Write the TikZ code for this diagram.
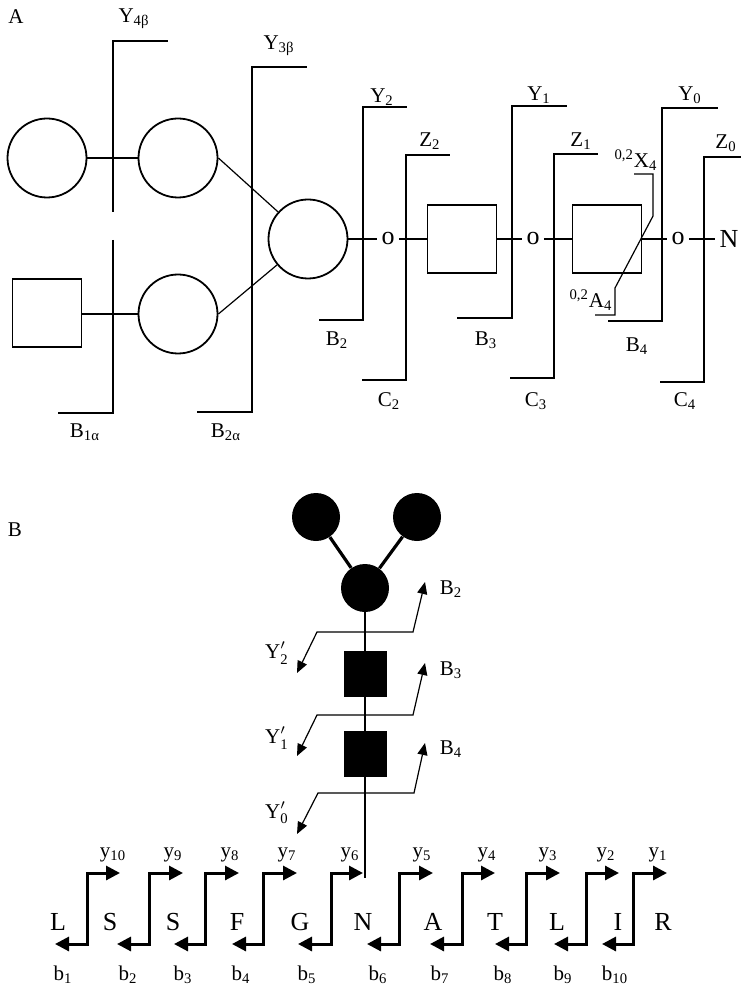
\documentclass[tikz,border=0pt]{standalone}
\usepackage{amsmath}
\usepackage{fontspec}
\setmainfont{Liberation Serif}
\usepackage{tikz}
\usetikzlibrary{arrows.meta, positioning}
\tikzset{
  ring/.style={circle, draw, line width=0.9pt, minimum size=39.5pt, inner sep=0pt},
  box/.style={rectangle, draw, line width=0.9pt,
    minimum width=34.5pt, minimum height=34pt, inner sep=0pt},
  dot/.style={circle, fill, minimum size=24pt, inner sep=0pt},
  blk/.style={rectangle, fill, minimum width=21.5pt, minimum height=23pt, inner sep=0pt},
  link/.style={line width=0.6pt},
  heavylink/.style={line width=1.6pt},
  cut/.style={line width=0.9pt},
  thincut/.style={line width=0.6pt},
  frag/.style={line width=0.6pt,
    {Triangle[length=6pt,width=5pt]}-{Triangle[length=6pt,width=5pt]}},
  steparrow/.style={line width=1.5pt,
    {Triangle[length=7pt,width=7pt]}-{Triangle[length=7pt,width=7pt]}},
  lbl/.style={font=\fontsize{10.5}{12}\selectfont, inner sep=0pt},
  res/.style={font=\fontsize{13}{15}\selectfont, inner sep=2pt}
}
\newcommand{\ypr}[1]{$\text{Y}'_{\text{#1}}$}

\begin{document}
\begin{tikzpicture}[x=0.5pt, y=-0.5pt]
  \useasboundingbox (0,0) rectangle (741,988);

  % ---------- A ----------
  \node[lbl] (tA) at (16,17) {A};

  \node[ring] (gA) at (47,158) {};
  \node[ring] (gB) at (178,158) {};
  \node[box] (sqA) at (47,313) {};
  \node[ring] (gC) at (178,314) {};
  \node[ring] (gD) at (308,239) {};
  \node[box] (sqB) at (462,239) {};
  \node[box] (sqC) at (607,239) {};
  \node[res] (o1) at (388,239) {o};
  \node[res] (o2) at (533,239) {o};
  \node[res] (o3) at (678,239) {o};
  \node[res] (nN) at (729,239) {N};

  \draw[link] (gA) -- (gB);
  \draw[link] (sqA.east |- gC) -- (gC);
  \draw[link] (gB.east) -- (gD);
  \draw[link] (gC.east) -- (gD);
  \draw[link] (gD) -- (o1) -- (sqB) -- (o2) -- (sqC) -- (o3) -- (nN);

  % cleavage marks
  \draw[thincut] (113,212) -- (113,41) -- (168,41);
  \draw[thincut] (113,240) -- (113,413) -- (58,413);
  \draw[cut] (197,412) -- (252,412) -- (252,67) -- (307,67);
  \draw[cut] (319,320) -- (363,320) -- (363,107) -- (407,107);
  \draw[cut] (362,380) -- (406,380) -- (406,155) -- (450,155);
  \draw[cut] (457,318) -- (512,318) -- (512,106) -- (567,106);
  \draw[cut] (510,378) -- (554,378) -- (554,154) -- (598,154);
  \draw[cut] (608,321) -- (662,321) -- (662,108) -- (718,108);
  \draw[cut] (660,382) -- (704,382) -- (704,157) -- (741,157);
  \draw[thincut] (634,174) -- (653,174) -- (653,216) -- (615,288) -- (615,315) -- (595,315);

  \node[lbl] (y4b) at (134,19) {Y\textsubscript{4β}};
  \node[lbl] (y3b) at (279,46) {Y\textsubscript{3β}};
  \node[lbl] (b1a) at (85,432) {B\textsubscript{1α}};
  \node[lbl] (b2a) at (226,432) {B\textsubscript{2α}};
  \node[lbl] (y2) at (382,97) {Y\textsubscript{2}};
  \node[lbl] (y1) at (539,95) {Y\textsubscript{1}};
  \node[lbl] (y0) at (690,95) {Y\textsubscript{0}};
  \node[lbl] (z2) at (430,141) {Z\textsubscript{2}};
  \node[lbl] (z1) at (581,141) {Z\textsubscript{1}};
  \node[lbl] (z0) at (726,143) {Z\textsubscript{0}};
  \node[lbl] (b2) at (337,340) {B\textsubscript{2}};
  \node[lbl] (b3) at (486,340) {B\textsubscript{3}};
  \node[lbl] (b4) at (637,346) {B\textsubscript{4}};
  \node[lbl] (c2) at (389,401) {C\textsubscript{2}};
  \node[lbl] (c3) at (536,401) {C\textsubscript{3}};
  \node[lbl] (c4) at (685,401) {C\textsubscript{4}};
  \node[lbl] (x4) at (636,160) {\textsuperscript{0,2}X\textsubscript{4}};
  \node[lbl] (a4) at (591,300) {\textsuperscript{0,2}A\textsubscript{4}};

  % ---------- B ----------
  \node[lbl] (tB) at (15,530) {B};

  \node[dot] (fc1) at (316,517) {};
  \node[dot] (fc2) at (417,517) {};
  \node[dot] (fc3) at (365,588) {};
  \node[blk] (fs1) at (365,674) {};
  \node[blk] (fs2) at (365,754) {};
  \coordinate (stemend) at (365,878);

  \draw[heavylink] (fc1) -- (fc3);
  \draw[heavylink] (fc2) -- (fc3);
  \draw[link] (fc3) -- (fs1) -- (fs2) -- (stemend);

  \draw[frag] (297,673) -- (317,632) -- (413,632) -- (425,582);
  \draw[frag] (297,756) -- (317,715) -- (413,715) -- (425,663);
  \draw[frag] (297,834) -- (318,793) -- (414,793) -- (425,743);

  \node[lbl] (fb2) at (451,589) {B\textsubscript{2}};
  \node[lbl] (fb3) at (451,670) {B\textsubscript{3}};
  \node[lbl] (fb4) at (451,749) {B\textsubscript{4}};
  \node[lbl] (fy2) at (277,653) {\ypr{2}};
  \node[lbl] (fy1) at (277,738) {\ypr{1}};
  \node[lbl] (fy0) at (277,813) {\ypr{0}};

  % peptide
  \node[res] (r1) at (58,922) {L};
  \node[res] (r2) at (110,922) {S};
  \node[res] (r3) at (173,922) {S};
  \node[res] (r4) at (237,922) {F};
  \node[res] (r5) at (300,922) {G};
  \node[res] (r6) at (363,922) {N};
  \node[res] (r7) at (433,922) {A};
  \node[res] (r8) at (495,922) {T};
  \node[res] (r9) at (557,922) {L};
  \node[res] (r10) at (618,922) {I};
  \node[res] (r11) at (663,922) {R};

  \draw[steparrow] (55,944) -- (87,944) -- (87,873) -- (120,873);
  \draw[steparrow] (117,944) -- (149,944) -- (149,873) -- (183,873);
  \draw[steparrow] (174,944) -- (205,944) -- (205,873) -- (239,873);
  \draw[steparrow] (232,944) -- (263,944) -- (263,873) -- (297,873);
  \draw[steparrow] (298,944) -- (331,944) -- (331,873) -- (363,873);
  \draw[steparrow] (367,944) -- (399,944) -- (399,873) -- (433,873);
  \draw[steparrow] (430,944) -- (462,944) -- (462,873) -- (495,873);
  \draw[steparrow] (495,944) -- (526,944) -- (526,873) -- (560,873);
  \draw[steparrow] (554,944) -- (586,944) -- (586,873) -- (619,873);
  \draw[steparrow] (602,944) -- (633,944) -- (633,873) -- (667,873);

  \node[lbl] (ly10) at (113,855) {y\textsubscript{10}};
  \node[lbl] (ly9) at (173,855) {y\textsubscript{9}};
  \node[lbl] (ly8) at (230,855) {y\textsubscript{8}};
  \node[lbl] (ly7) at (287,855) {y\textsubscript{7}};
  \node[lbl] (ly6) at (350,855) {y\textsubscript{6}};
  \node[lbl] (ly5) at (422,855) {y\textsubscript{5}};
  \node[lbl] (ly4) at (487,855) {y\textsubscript{4}};
  \node[lbl] (ly3) at (548,855) {y\textsubscript{3}};
  \node[lbl] (ly2) at (606,855) {y\textsubscript{2}};
  \node[lbl] (ly1) at (658,855) {y\textsubscript{1}};

  \node[lbl] (lb1) at (63,975) {b\textsubscript{1}};
  \node[lbl] (lb2) at (128,975) {b\textsubscript{2}};
  \node[lbl] (lb3) at (183,975) {b\textsubscript{3}};
  \node[lbl] (lb4) at (241,975) {b\textsubscript{4}};
  \node[lbl] (lb5) at (307,975) {b\textsubscript{5}};
  \node[lbl] (lb6) at (378,975) {b\textsubscript{6}};
  \node[lbl] (lb7) at (440,975) {b\textsubscript{7}};
  \node[lbl] (lb8) at (503,975) {b\textsubscript{8}};
  \node[lbl] (lb9) at (563,975) {b\textsubscript{9}};
  \node[lbl] (lb10) at (615,975) {b\textsubscript{10}};
\end{tikzpicture}
\end{document}
